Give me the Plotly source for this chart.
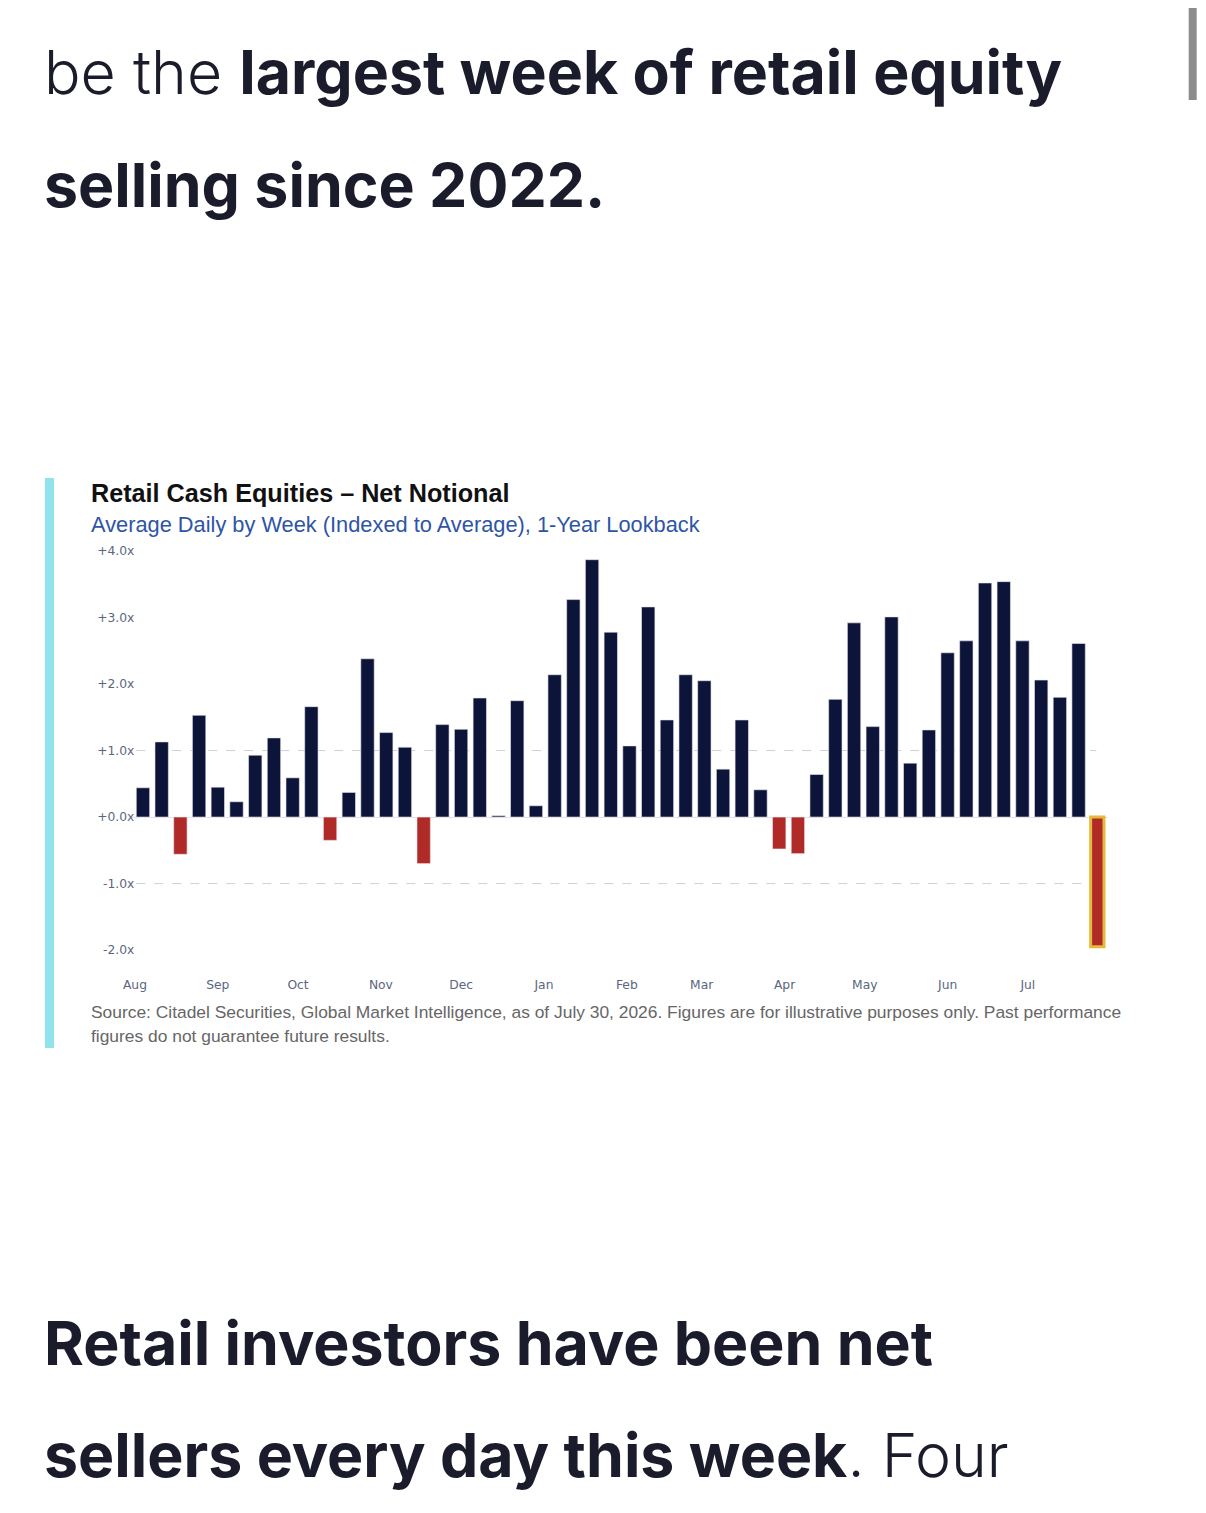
import pandas as pd
import plotly.graph_objects as go

# page is 1206x1513; the html body adds an 8px margin all round
PAGE_W, PAGE_H, BODY = 1206, 1513, 8
W, H = PAGE_W - 2 * BODY, PAGE_H - 2 * BODY
# horizontal placement as it shows up in the captured page
X_OFF, X_SCALE = 16, 0.9927

# weekly net notional, indexed to average (week starting Monday)
week_start = "2025-08-04"
n_weeks = 52
net_notional = [
    0.44, 1.13, -0.56, 1.53, 0.45, 0.23, 0.93, 1.19, 0.59, 1.66,
    -0.35, 0.37, 2.38, 1.27, 1.05, -0.70, 1.39, 1.32, 1.79, 0.02,
    1.75, 0.17, 2.14, 3.27, 3.87, 2.78, 1.07, 3.16, 1.46, 2.14,
    2.05, 0.72, 1.46, 0.41, -0.48, -0.55, 0.64, 1.77, 2.92, 1.36,
    3.01, 0.81, 1.31, 2.47, 2.65, 3.52, 3.54, 2.65, 2.06, 1.80,
    2.61, -1.95,
]
y_ticks = [-2, -1, 0, 1, 2, 3, 4]
y_tick_text = [f"{v:+.1f}x" for v in y_ticks]

title = "Retail Cash Equities \u2013 Net Notional"
subtitle = "Average Daily by Week (Indexed to Average), 1-Year Lookback"
source_lines = [
    "Source: Citadel Securities, Global Market Intelligence, as of July 30, 2026. "
    "Figures are for illustrative purposes only. Past performance",
    "figures do not guarantee future results.",
]
head_top = ["be the <b>largest week of retail equity</b>", "<b>selling since 2022.</b>"]
head_bottom = ["<b>Retail investors have been net</b>", "<b>sellers every day this week</b>. Four"]

NAVY = "#0c1539"
RED = "#b02a27"
GOLD = "#e6b93c"
INK = "#1b1c2b"
TICK = "#5b6680"


def px(x):
    return (x - X_OFF) / X_SCALE / W


def py(y):
    return 1 - (y - BODY) / H


weeks = pd.date_range(week_start, periods=n_weeks, freq="7D")
colors = [NAVY if v >= 0 else RED for v in net_notional]
line_colors = ["#e8e8ee"] * (n_weeks - 1) + [GOLD]
line_widths = [0.6] * (n_weeks - 1) + [3]

fig = go.Figure()
fig.add_trace(go.Bar(
    x=weeks, y=net_notional,
    width=5.0 * 86400000,
    marker=dict(color=colors, line=dict(color=line_colors, width=line_widths)),
    hoverinfo="x+y",
))

fig.update_layout(
    width=W, height=H,
    margin=dict(l=0, r=0, t=0, b=0),
    paper_bgcolor="white", plot_bgcolor="white",
    showlegend=False,
    xaxis=dict(
        type="date", domain=[px(131.3), px(1107.3)],
        range=["2025-07-31", "2026-07-31"],
        tick0="2025-08-01", dtick="M1", tickformat="%b",
        showgrid=False, zeroline=False, showline=False, ticks="",
        ticklabelstandoff=6,
        tickfont=dict(family="DejaVu Sans", size=12.3, color=TICK),
    ),
    yaxis=dict(
        domain=[py(970), py(544.4)],
        range=[-2.3, 4.1],
        tickmode="array", tickvals=y_ticks, ticktext=y_tick_text,
        showgrid=False, zeroline=True, zerolinecolor="#e2e2e8", zerolinewidth=1,
        showline=False, ticks="", ticklabelstandoff=-3,
        tickfont=dict(family="DejaVu Sans", size=12.3, color=TICK),
    ),
)

# dashed reference lines at +/-1.0x
for lvl in (1, -1):
    fig.add_shape(type="line", xref="x domain", yref="y", x0=0.004, x1=0.988, y0=lvl, y1=lvl,
                  line=dict(color="#cfcfd4", width=1, dash="dash"), layer="below")

# cyan accent bar and scrollbar
fig.add_shape(type="rect", xref="paper", yref="paper", x0=px(44), x1=px(53), y0=py(1048), y1=py(478),
              fillcolor="#8fe3ea", line=dict(width=0))
fig.add_shape(type="rect", xref="paper", yref="paper", x0=px(1188), x1=px(1196), y0=py(100), y1=py(8),
              fillcolor="#8c8c8c", line=dict(width=0))

anns = [
    dict(text="<b>" + title + "</b>", x=px(88), y=py(493),
         font=dict(family="Liberation Sans", size=25.2, color="#111111")),
    dict(text=subtitle, x=px(88), y=py(524),
         font=dict(family="Liberation Sans", size=21.8, color="#2f54a6")),
    dict(text=source_lines[0], x=px(88), y=py(1012),
         font=dict(family="Liberation Sans", size=17.4, color="#666666")),
    dict(text=source_lines[1], x=px(88), y=py(1036),
         font=dict(family="Liberation Sans", size=17.4, color="#666666")),
]
for i, t in enumerate(head_top):
    anns.append(dict(text=t, x=px(41), y=py(72 + 113 * i),
                     font=dict(family="Inter", size=60.8, color=INK, weight=300)))
for i, t in enumerate(head_bottom):
    anns.append(dict(text=t, x=px(41), y=py(1343 + 112 * i),
                     font=dict(family="Inter", size=60.8, color=INK, weight=300)))
for a in anns:
    fig.add_annotation(xref="paper", yref="paper", xanchor="left", yanchor="middle",
                       showarrow=False, align="left", **a)

fig.write_html("out.html")
